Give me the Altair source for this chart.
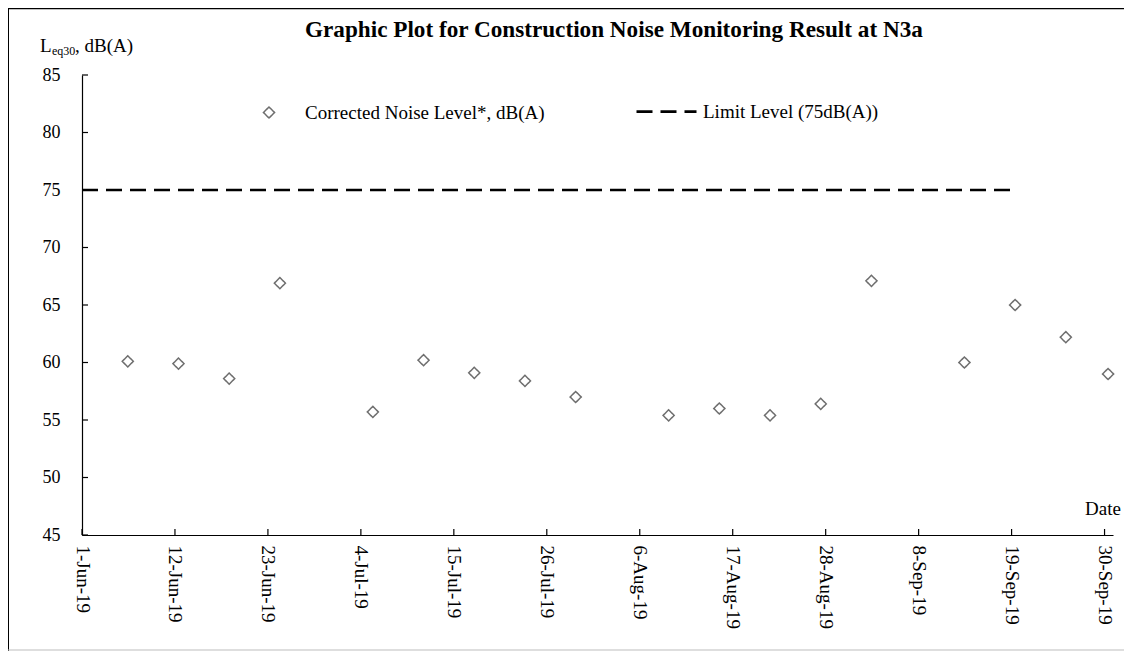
import altair as alt
import pandas as pd

# ---- data ----
meas_dates = ["2019-06-06 10:00", "2019-06-12 10:00", "2019-06-18 10:00", "2019-06-24 10:00",
              "2019-07-05 10:00", "2019-07-11 10:00", "2019-07-17 10:00", "2019-07-23 10:00",
              "2019-07-29 10:00", "2019-08-09 10:00", "2019-08-15 10:00", "2019-08-21 10:00",
              "2019-08-27 10:00", "2019-09-02 10:00", "2019-09-13 10:00", "2019-09-19 10:00",
              "2019-09-25 10:00", "2019-09-30 10:00"]
noise_levels = [60.1, 59.9, 58.6, 66.9, 55.7, 60.2, 59.1, 58.4, 57.0, 55.4, 56.0, 55.4,
                56.4, 67.1, 60.0, 65.0, 62.2, 59.0]
limit_dates = ["2019-06-01 00:00", "2019-09-19 10:00"]
limit_levels = [75, 75]
series_names = ["Corrected Noise Level*, dB(A)", "Limit Level (75dB(A))"]
y_tick_values = [45, 50, 55, 60, 65, 70, 75, 80, 85]
x_tick_days = [(6, 1), (6, 12), (6, 23), (7, 4), (7, 15), (7, 26), (8, 6), (8, 17),
               (8, 28), (9, 8), (9, 19), (9, 30)]
title_text = "Graphic Plot for Construction Noise Monitoring Result at N3a"

W, H = 1031, 460
FONT = "Liberation Serif"

pts = pd.DataFrame({"date": meas_dates, "level": noise_levels, "series": series_names[0]})
lim = pd.DataFrame({"date": limit_dates, "level": limit_levels, "series": series_names[1]})
yt = pd.DataFrame({"level": y_tick_values})
xt = pd.DataFrame({"date": [f"2019-{m:02d}-{d:02d} 00:00" for m, d in x_tick_days]})
one = pd.DataFrame({"a": [0]})

x_scale = alt.Scale(domain=[alt.DateTime(year=2019, month=6, date=1),
                            alt.DateTime(year=2019, month=10, date=1)], nice=False)
y_scale = alt.Scale(domain=[45, 85], nice=False, zero=False)

x_axis = alt.Axis(values=[alt.DateTime(year=2019, month=m, date=d) for m, d in x_tick_days],
                  format="%-d-%b-%y", labelAngle=90, labelAlign="left", labelBaseline="middle",
                  labelPadding=10, ticks=False, grid=False, title=None,
                  labelFont=FONT, labelFontSize=19, labelColor="black", labelFlush=False,
                  domainColor="black", domainWidth=1.2, labelOverlap=False)
y_axis = alt.Axis(values=y_tick_values, labelPadding=22, ticks=False, grid=False,
                  title=None, labelFont=FONT, labelFontSize=18, labelColor="black",
                  domainColor="black", domainWidth=1.2, labelOverlap=False)

# legend symbols drawn inside a 2x2 unit box so both entries share one slot size
diamond_path = "M -1 -1 M 1 1 M 0 -0.185 L 0.185 0 L 0 0.185 L -0.185 0 Z"
dash_path = "M -1 -1 M 1 1 M -1 0 L 1 0"

shared = dict(
    color=alt.Color("series:N", scale=alt.Scale(domain=series_names, range=["#6e6e6e", "black"]),
                    legend=alt.Legend(orient="none", legendX=156, legendY=5, direction="horizontal",
                                      title=None, labelFont=FONT, labelFontSize=19,
                                      labelColor="black", columnPadding=86, labelOffset=5,
                                      labelLimit=600, padding=0)),
    strokeDash=alt.StrokeDash("series:N", scale=alt.Scale(domain=series_names,
                                                          range=[[1, 0], [16, 8]])),
    strokeWidth=alt.StrokeWidth("series:N", scale=alt.Scale(domain=series_names,
                                                            range=[1.5, 2.6])),
)

points = alt.Chart(pts).mark_point(filled=False, opacity=1).encode(
    x=alt.X("date:T", scale=x_scale, axis=x_axis),
    y=alt.Y("level:Q", scale=y_scale, axis=y_axis),
    shape=alt.Shape("series:N", scale=alt.Scale(domain=series_names, range=[diamond_path, dash_path])),
    size=alt.Size("series:N", scale=alt.Scale(domain=series_names, range=[3600, 3600])),
    **shared,
)

limit = alt.Chart(lim).mark_line().encode(
    x=alt.X("date:T", scale=x_scale, axis=x_axis),
    y=alt.Y("level:Q", scale=y_scale, axis=y_axis),
    **shared,
)

# inward tick marks
y_ticks = alt.Chart(yt).mark_rule(color="black", strokeWidth=1.2).encode(
    y=alt.Y("level:Q", scale=y_scale, axis=y_axis), x=alt.value(0), x2=alt.value(6))
x_ticks = alt.Chart(xt).mark_rule(color="black", strokeWidth=1.2).encode(
    x=alt.X("date:T", scale=x_scale, axis=x_axis), y=alt.value(H), y2=alt.value(H - 6))

def txt(s, x, y, size=19, **kw):
    return alt.Chart(one).mark_text(text=s, font=FONT, fontSize=size, align="left",
                                    baseline="alphabetic", color="black", **kw).encode(
        x=alt.value(x), y=alt.value(y))

title = txt(title_text, 223, -38, size=23.2, fontWeight="bold")
ytitle = txt("L", -42, -23) + txt("eq30", -30, -20, size=12) + txt(", dB(A)", -7, -23)
date_lbl = txt("Date", 1003, 440)

border = (
    alt.Chart(one).mark_rule(color="black", strokeWidth=1.5).encode(
        x=alt.value(-74), x2=alt.value(W + 11), y=alt.value(-66.5))
    + alt.Chart(one).mark_rule(color="black", strokeWidth=1).encode(
        x=alt.value(-73.5), y=alt.value(-67), y2=alt.value(H + 116))
    + alt.Chart(one).mark_rule(color="#bdbdbd", strokeWidth=1).encode(
        x=alt.value(-74), x2=alt.value(W + 11), y=alt.value(H + 115))
)

chart = alt.layer(points, limit, y_ticks, x_ticks, border, title, ytitle, date_lbl).properties(
    width=W, height=H,
    autosize=alt.AutoSizeParams(type="none"),
    padding={"left": 74, "top": 67, "right": 11, "bottom": 116},
).configure(background="white", view=alt.ViewConfig(stroke=None))

chart.save("out.html", embed_options={"renderer": "svg", "actions": False})
